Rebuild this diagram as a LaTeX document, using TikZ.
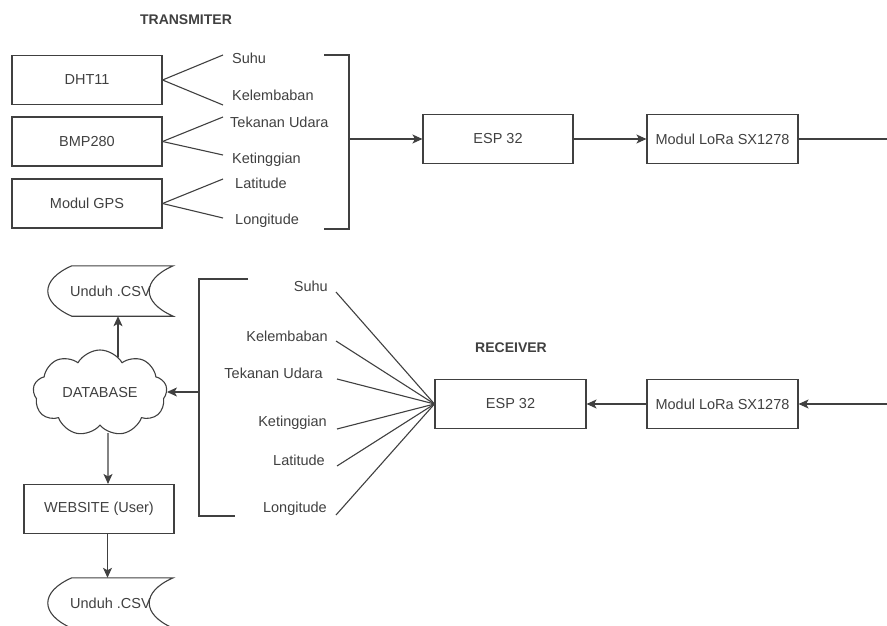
\documentclass[tikz,border=0pt]{standalone}
\usepackage{fontspec}
\setsansfont{Liberation Sans}
\usetikzlibrary{arrows.meta}
\usetikzlibrary{shapes}

\newcommand{\csvShape}[1]{\draw[lineStyle] ([xshift=24pt]#1.north west) -- (#1.north east)
	.. controls ([xshift=-32pt,yshift=-14pt]#1.north east) and ([xshift=-32pt,yshift=14pt]#1.south east) .. (#1.south east)
	-- ([xshift=24pt]#1.south west)
	.. controls ([xshift=-8pt,yshift=14pt]#1.south west) and ([xshift=-8pt,yshift=-14pt]#1.north west) .. cycle;}

\begin{document}
\begin{tikzpicture}[x = 1pt, y = -1pt, font=\sffamily\fontsize{14.5}{17}\selectfont, text=black!75]
	\tikzstyle{lineStyle}=[draw=black!75, line width = 1.1pt]
	\tikzstyle{arrowStyle}=[lineStyle, -{Stealth[length=10pt, width=9pt, inset=2.5pt]}]
	\tikzstyle{boxStyle}=[lineStyle, shape = rectangle, minimum width = 150pt, minimum height = 49pt, inner sep = 0pt]
	\tikzstyle{labelStyle}=[inner sep = 2pt]
	\tikzstyle{titleStyle}=[font=\sffamily\bfseries\fontsize{14}{17}\selectfont]
	\tikzstyle{cloudStyle}=[lineStyle, shape = cloud, cloud puffs = 9, cloud puff arc = 120, aspect = 1.6, minimum width = 134pt, minimum height = 86pt, inner sep = 0pt]
	\tikzstyle{csvStyle}=[minimum width = 125pt, minimum height = 50pt, inner sep = 0pt]
	\useasboundingbox (0,0) rectangle (887,626);
	% transmiter
	\node[titleStyle] (titleT) at (186,20) {TRANSMITER};
	\node[boxStyle] (dht) at (87,80) {DHT11};
	\node[boxStyle] (bmp) at (87,141.5) {BMP280};
	\node[boxStyle] (gps) at (87,203.5) {Modul GPS};
	\node[labelStyle, anchor = base west] (tSuhu) at (230,64) {Suhu};
	\node[labelStyle, anchor = base west] (tKelembaban) at (230,101) {Kelembaban};
	\node[labelStyle, anchor = base west] (tTekanan) at (228,128) {Tekanan Udara};
	\node[labelStyle, anchor = base west] (tKetinggian) at (230,163) {Ketinggian};
	\node[labelStyle, anchor = base west] (tLatitude) at (233,188) {Latitude};
	\node[labelStyle, anchor = base west] (tLongitude) at (233,224) {Longitude};
	\draw[lineStyle] (dht.east) -- ([xshift=-7pt,yshift=9pt]tSuhu.base west);
	\draw[lineStyle] (dht.east) -- ([xshift=-7pt,yshift=-4pt]tKelembaban.base west);
	\draw[lineStyle] (bmp.east) -- ([xshift=-5pt,yshift=11pt]tTekanan.base west);
	\draw[lineStyle] (bmp.east) -- ([xshift=-7pt,yshift=8pt]tKetinggian.base west);
	\draw[lineStyle] (gps.east) -- ([xshift=-10pt,yshift=9pt]tLatitude.base west);
	\draw[lineStyle] (gps.east) -- ([xshift=-10pt,yshift=6pt]tLongitude.base west);
	\coordinate (tbTop) at (324,55);
	\coordinate (tbBot) at (324,229);
	\coordinate (tbMid) at (349,139);
	\draw[lineStyle] (tbTop) -| (tbMid) |- (tbBot);
	\node[boxStyle] (esp1) at (498,139) {ESP 32};
	\node[boxStyle, minimum width = 151pt] (lora1) at (722.5,139) {Modul LoRa SX1278};
	\coordinate (outT) at (887,139);
	\draw[arrowStyle] (tbMid) -- (esp1.west);
	\draw[arrowStyle] (esp1.east) -- (lora1.west);
	\draw[lineStyle] (lora1.east) -- (outT);
	% receiver
	\node[titleStyle] (titleR) at (511,348) {RECEIVER};
	\node[boxStyle, minimum width = 151pt] (esp2) at (510.5,404) {ESP 32};
	\node[boxStyle, minimum width = 151pt] (lora2) at (722.5,404) {Modul LoRa SX1278};
	\coordinate (inR) at (887,404);
	\draw[arrowStyle] (inR) -- (lora2.east);
	\draw[arrowStyle] (lora2.west) -- (esp2.east);
	\node[labelStyle, anchor = base east] (rSuhu) at (330,291) {Suhu};
	\node[labelStyle, anchor = base east] (rKelembaban) at (330,341) {Kelembaban};
	\node[labelStyle, anchor = base east] (rTekanan) at (325,378) {Tekanan Udara};
	\node[labelStyle, anchor = base east] (rKetinggian) at (329,426) {Ketinggian};
	\node[labelStyle, anchor = base east] (rLatitude) at (327,465) {Latitude};
	\node[labelStyle, anchor = base east] (rLongitude) at (329,512) {Longitude};
	\draw[lineStyle] ([xshift=6pt,yshift=-1pt]rSuhu.base east) -- (esp2.west);
	\draw[lineStyle] ([xshift=6pt]rKelembaban.base east) -- (esp2.west);
	\draw[lineStyle] ([xshift=12pt,yshift=-1pt]rTekanan.base east) -- (esp2.west);
	\draw[lineStyle] ([xshift=8pt,yshift=-3pt]rKetinggian.base east) -- (esp2.west);
	\draw[lineStyle] ([xshift=10pt,yshift=-1pt]rLatitude.base east) -- (esp2.west);
	\draw[lineStyle] ([xshift=7pt,yshift=-3pt]rLongitude.base east) -- (esp2.west);
	\coordinate (rbTop) at (248,279);
	\coordinate (rbBot) at (235,516);
	\coordinate (rbMid) at (199,392);
	\draw[lineStyle] (rbTop) -| (rbMid) |- (rbBot);
	% database side
	\node[cloudStyle] (db) at (100,393) {DATABASE};
	\node[csvStyle] (csvTop) at (110.5,291) {Unduh .CSV};
	\csvShape{csvTop}
	\node[boxStyle] (web) at (99,509) {WEBSITE (User)};
	\node[csvStyle] (csvBot) at (110.5,603) {Unduh .CSV};
	\csvShape{csvBot}
	\draw[arrowStyle] (rbMid) -- (db.east |- rbMid);
	\draw[arrowStyle] ([xshift=18pt,yshift=-8pt]db.north) -- ([xshift=7.5pt]csvTop.south);
	\draw[arrowStyle] ([xshift=8pt,yshift=-7pt]db.south) -- ([xshift=9pt]web.north);
	\draw[arrowStyle] ([xshift=8.5pt]web.south) -- ([xshift=-3pt]csvBot.north);
\end{tikzpicture}
\end{document}
